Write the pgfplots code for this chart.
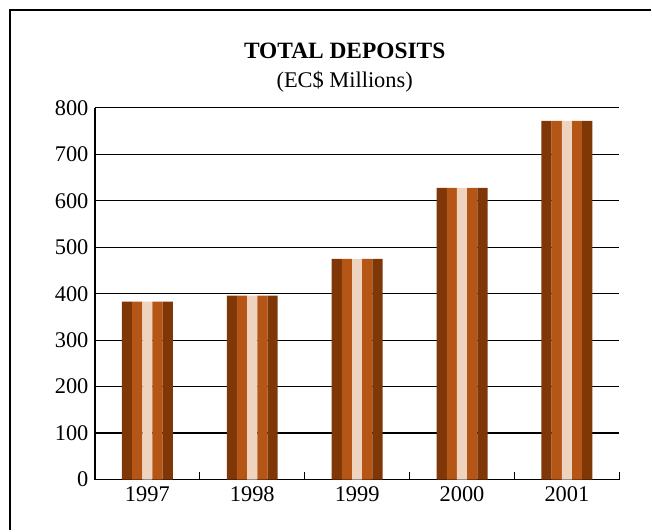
\documentclass[border=0pt]{standalone}
\usepackage{pgfplots}
\usepackage{pgfplotstable}
\pgfplotsset{compat=1.18}
\usepackage{fontspec}
\setmainfont{Liberation Serif}
\definecolor{darkbr}{HTML}{7F3708}
\definecolor{midbr}{HTML}{B55516}
\definecolor{lightbr}{HTML}{EED3BF}
\pgfplotstableread{
x value
0 383
1 396
2 475
3 628
4 772
}\deposits
\begin{document}
\begin{tikzpicture}[x=1bp,y=1bp]
\path (0,0) rectangle (652,531);
\draw[line width=1.3bp] (10,0) -- (10,521) -- (652,521);
\node[anchor=base, font=\fontsize{23.5}{27}\selectfont\bfseries, inner sep=0pt] at (345,472) {TOTAL DEPOSITS};
\node[anchor=base, font=\fontsize{22.5}{26}\selectfont, inner sep=0pt] at (345,443) {(EC\$ Millions)};
\begin{axis}[
  set layers,
  at={(95bp,51bp)}, anchor=south west,
  scale only axis, width=525bp, height=372bp,
  xmin=-0.5, xmax=4.5, ymin=0, ymax=800,
  axis lines=left,
  axis line style={-, line width=1.3bp, black},
  tick align=inside,
  xtick={0,1,2,3,4},
  xticklabels={1997,1998,1999,2000,2001},
  minor xtick={-0.5,0.5,...,4.5},
  major tick length=0pt,
  minor tick length=8bp,
  xtick style={line width=1.2bp, black},
  ytick={0,100,...,800},
  ytick style={draw=none},
  ymajorgrids,
  grid style={black, line width=1.2bp},
  ticklabel style={font=\fontsize{22.5}{26}\selectfont},
  yticklabel style={xshift=-3bp},
  xticklabel style={yshift=-4bp},
  /pgf/number format/assume math mode=true,
]
\addplot[ybar, bar width=10.2bp, bar shift=-20.4bp, fill=darkbr, draw=none] table[x=x,y=value]{\deposits};
\addplot[ybar, bar width=10.2bp, bar shift=-10.2bp, fill=midbr, draw=none] table[x=x,y=value]{\deposits};
\addplot[ybar, bar width=10.2bp, bar shift=0bp, fill=lightbr, draw=none] table[x=x,y=value]{\deposits};
\addplot[ybar, bar width=10.2bp, bar shift=10.2bp, fill=midbr, draw=none] table[x=x,y=value]{\deposits};
\addplot[ybar, bar width=10.2bp, bar shift=20.4bp, fill=darkbr, draw=none] table[x=x,y=value]{\deposits};
\end{axis}
\end{tikzpicture}
\end{document}
